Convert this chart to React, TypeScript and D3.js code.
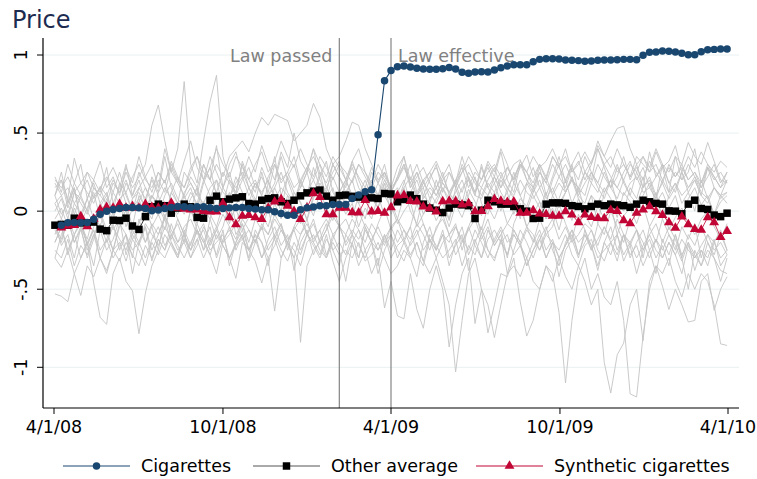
import React from 'react';
import * as d3 from 'd3';

const DAY = 864e5;
const START = Date.UTC(2008, 3, 2);
const N_WEEKS = 105;

const tickDates = [Date.UTC(2008, 3, 1), Date.UTC(2008, 9, 1), Date.UTC(2009, 3, 1), Date.UTC(2009, 9, 1), Date.UTC(2010, 3, 1)];
const tickLabels = ['4/1/08', '10/1/08', '4/1/09', '10/1/09', '4/1/10'];
const yTicks = [-1, -0.5, 0, 0.5, 1];
const yTickLabels = ['-1', '-.5', '0', '.5', '1'];

const events = [
  { date: Date.UTC(2009, 1, 4), label: 'Law passed', side: 'left' },
  { date: Date.UTC(2009, 3, 1), label: 'Law effective', side: 'right' },
];

// Cigarettes (treated)
const cigarettes = [null,
  -0.09, -0.075, -0.073, -0.074, -0.072, -0.052, -0.02, 0.0, 0.011, 0.017,
  0.024, 0.024, 0.021, 0.017, 0.003, 0.008, 0.017, 0.024, 0.03, 0.028,
  0.024, 0.028, 0.028, 0.022, 0.017, 0.017, 0.021, 0.023, 0.023, 0.017,
  0.013, 0.009, 0.009, -0.004, -0.015, -0.026, -0.026, 0.009, 0.021, 0.026,
  0.034, 0.034, 0.043, 0.043, 0.043, 0.081, 0.103, 0.124, 0.137, 0.49,
  0.835, 0.90,
  0.925, 0.93, 0.923, 0.915, 0.91, 0.908, 0.908, 0.912, 0.92, 0.91,
  0.889, 0.883, 0.891, 0.893, 0.891, 0.904, 0.919, 0.929, 0.938, 0.938,
  0.938, 0.957, 0.972, 0.976, 0.976, 0.974, 0.968, 0.966, 0.964, 0.96,
  0.962, 0.966, 0.968, 0.968, 0.97, 0.972, 0.972, 0.97, 0.998, 1.017,
  1.019, 1.026, 1.024, 1.019, 1.011, 1.002, 1.002, 1.021, 1.034, 1.036,
  1.038, 1.038];

// Other average
const otherAverage = [
  -0.09, -0.085, -0.09, -0.045, -0.075, -0.075, -0.07, -0.115, -0.125, -0.058,
  -0.06, -0.045, -0.095, -0.117, -0.035, 0.028, 0.045, 0.035, -0.013, 0.02,
  0.045, 0.028, -0.04, -0.045, 0.07, 0.096, 0.06, 0.077, 0.085, 0.092,
  0.049, 0.045, 0.07, 0.08, 0.085, 0.06, 0.049, 0.07, 0.098, 0.117,
  0.128, 0.135, 0.096, 0.07, 0.1, 0.103, 0.095, 0.09, 0.088, 0.085,
  0.081, 0.113, 0.11, 0.06, 0.075, 0.103, 0.08, 0.045, 0.02, 0.006,
  -0.009, 0.02, 0.045, 0.04, 0.035, -0.047, 0.006, 0.07, 0.06, 0.045,
  0.045, 0.03, 0.015, 0.0, -0.047, -0.045, 0.045, 0.053, 0.053, 0.05,
  0.035, 0.03, 0.015, 0.03, 0.045, 0.035, 0.045, 0.04, 0.035, 0.025,
  0.045, 0.07, 0.06, 0.05, 0.045, 0.002, 0.0, -0.017, 0.045, 0.07,
  0.017, 0.011, -0.025, -0.035, -0.013];

// Synthetic cigarettes
const synthetic = [null,
  -0.105, -0.095, -0.09, -0.034, -0.098, -0.05, 0.01, 0.025, 0.02, 0.045,
  0.02, 0.032, 0.02, 0.045, 0.025, 0.02, 0.025, 0.053, 0.02, 0.015,
  0.01, 0.01, 0.0, -0.004, -0.004, 0.049, -0.04, -0.085, -0.03, -0.026,
  -0.04, -0.051, 0.02, 0.06, 0.077, 0.034, 0.0, -0.051, 0.02, 0.113,
  0.09, -0.021, -0.021, 0.02, 0.02, -0.008, -0.01, 0.07, -0.004, 0.0,
  -0.012, 0.024, 0.1, 0.103, 0.064, 0.06, 0.028, 0.018, -0.003, 0.062,
  0.066, 0.062, 0.042, 0.05, -0.002, 0.0, 0.03, 0.077, 0.066, 0.058,
  0.06, -0.012, -0.012, 0.005, -0.016, -0.02, -0.03, -0.03, -0.002, -0.022,
  -0.072, -0.022, -0.038, -0.045, -0.047, 0.006, 0.0, -0.06, -0.078, -0.012,
  0.01, 0.03, -0.002, -0.025, -0.072, -0.108, -0.035, -0.085, -0.115, -0.12,
  -0.04, -0.072, -0.167, -0.128];

// individual products (gray)
const products = [
  [.15,.2,.08,.34,.18,.12,.05,.16,.1,.2,.12,.25,.15,.22,.3,
   .55,.68,.45,.25,.4,.83,.3,.18,.45,.7,.87,.35,.2,.15,.22,
   .1,.18,.12,.2,.08,.15,.1,.05,.18,.12,.2,.1,.15,.08,.12,
   .2,.1,.05,.15,.12,.08,.18,.1,.15,.05,.12,.2,.08,.15,.1,
   .18,.12,.05,.15,.2,.1,.08,.18,.12,.22,.15,.1,.2,.12,.08,
   .15,.22,.1,.18,.12,.2,.15,.1,.25,.18,.12,.2,.15,.1,.18,
   .22,.12,.15,.08,.2,.12,.18,.1,.15,.22,.12,.08,.15,.1,.12],
  [.05,.1,-.02,.12,.08,.0,.15,.1,.05,.18,.12,.2,.08,.15,.22,
   .12,.25,.18,.3,.2,.15,.28,.35,.25,.2,.3,.22,.35,.4,.45,
   .38,.5,.6,.55,.62,.6,.58,.45,.5,.55,.69,.6,.4,.3,.35,
   .45,.57,.55,.4,.3,.2,.25,.15,.2,.28,.18,.1,.2,.25,.15,
   .22,.12,.18,.25,.3,.2,.15,.25,.3,.22,.28,.2,.3,.25,.35,
   .28,.32,.4,.3,.35,.25,.3,.38,.3,.42,.35,.45,.53,.545,.4,
   .3,.35,.25,.3,.2,.28,.22,.3,.2,.25,.18,.28,.22,.15,.2],
  [-.05,.02,-.1,.05,-.02,.08,-.05,.03,.1,.0,.06,-.04,.08,.12,.02,
   .1,.05,.15,.08,.0,.12,.18,.1,.05,.15,.2,.12,.08,.18,.25,
   .15,.2,.1,.22,.3,.18,.25,.15,.2,.28,.35,.25,.18,.3,.22,
   .12,.2,.3,.25,.15,.1,.2,.12,.05,.15,.22,.1,.18,.12,.05,
   .15,.08,.2,.12,.25,.18,.1,.2,.28,.15,.22,.3,.33,.2,.15,
   .25,.18,.12,.22,.3,.2,.15,.25,.18,.3,.22,.15,.28,.2,.3,
   .25,.35,.28,.4,.3,.25,.35,.3,.44,.35,.3,.44,.32,.2,.18],
  [-.53,-.545,-.58,-.4,-.54,-.35,-.42,-.3,-.38,-.25,-.32,-.2,-.28,-.35,-.22,
   -.3,-.18,-.25,-.15,-.22,-.3,-.2,-.12,-.25,-.18,-.1,-.2,-.15,-.08,-.18,
   -.12,-.2,-.1,-.15,-.05,-.12,-.2,-.1,-.15,-.08,-.18,-.12,-.05,-.15,-.1,
   -.2,-.12,-.18,-.08,-.15,-.25,-.18,-.1,-.2,-.12,-.22,-.15,-.08,-.18,-.25,
   -.15,-.2,-.1,-.18,-.25,-.12,-.2,-.3,-.18,-.1,-.2,-.15,-.22,-.12,-.18,
   -.25,-.15,-.2,-.3,-.22,-.12,-.2,-.15,-.25,-.18,-.1,-.2,-.28,-.15,-.22,
   -.12,-.2,-.3,-.18,-.25,-.15,-.22,-.32,-.2,-.28,-.35,-.25,-.3,-.38,-.4],
  [-.3,-.36,-.25,-.4,-.3,-.2,-.46,-.68,-.725,-.4,-.3,-.45,-.51,-.785,-.525,
   -.35,-.25,-.3,-.2,-.28,-.15,-.25,-.18,-.3,-.2,-.12,-.22,-.3,-.43,-.2,
   -.25,-.32,-.46,-.3,-.64,-.3,-.2,-.3,-.84,-.35,-.25,-.2,-.3,-.15,-.25,
   -.45,-.2,-.12,-.25,-.18,-.1,-.2,-.15,-.25,-.32,-.2,-.12,-.25,-.18,-.3,
   -.2,-.15,-.28,-.2,-.1,-.22,-.3,-.18,-.12,-.2,-.28,-.15,-.22,-.3,-.2,
   -.12,-.25,-.18,-.3,-.22,-.15,-.28,-.2,-.12,-.25,-.32,-.2,-.15,-.28,-.2,
   -.3,-.22,-.15,-.25,-.3,-.2,-.28,-.18,-.25,-.3,-.22,-.15,-.25,-.2,-.28],
  [-.2,-.1,-.25,-.15,-.3,-.2,-.12,-.25,-.18,-.3,-.22,-.15,-.25,-.2,-.3,
   -.18,-.1,-.22,-.15,-.25,-.2,-.3,-.18,-.12,-.25,-.2,-.15,-.3,-.22,-.18,
   -.25,-.15,-.2,-.3,-.22,-.12,-.2,-.25,-.35,-.2,-.15,-.25,-.3,-.2,-.28,
   -.25,-.3,-.2,-.32,-.28,-.2,-.3,-.4,-.35,-.25,-.3,-.2,-.32,-.4,-.3,
   -.45,-.6,-1.03,-.7,-.4,-.3,-.5,-.6,-.81,-.6,-.4,-.35,-.42,-.3,-.45,
   -.5,-.35,-.4,-.65,-1.1,-.7,-.42,-.3,-.5,-.4,-.55,-.6,-.45,-.7,-1.17,
   -1.19,-.8,-.5,-.35,-.4,-.3,-.45,-.55,-.4,-.5,-.4,-.45,-.6,-.85,-.86],
  [-.1,-.18,-.05,-.2,-.12,-.25,-.15,-.08,-.2,-.1,-.18,-.25,-.12,-.2,-.08,
   -.15,-.22,-.1,-.18,-.05,-.15,-.25,-.12,-.2,-.1,-.3,-.18,-.12,-.22,-.15,
   -.32,-.2,-.1,-.25,-.18,-.3,-.2,-.12,-.25,-.15,-.2,-.28,-.15,-.32,-.45,
   -.3,-.2,-.35,-.25,-.4,-.3,-.62,-.45,-.67,-.69,-.4,-.63,-.75,-.5,-.35,
   -.5,-.87,-.6,-.4,-.3,-.72,-.5,-.78,-.6,-.4,-.42,-.3,-.58,-.8,-.7,
   -.5,-.35,-.45,-.3,-.42,-.5,-.35,-.45,-.6,-.5,-.97,-1.165,-.92,-.845,-.6,
   -.5,-.83,-.45,-.35,-.48,-.63,-.5,-.6,-.71,-.7,-.45,-.4,-.635,-.5,-.42],
  [.18,.1,.15,.05,.12,.2,.08,.15,.22,.12,.05,.18,.1,.25,.15,
   .08,.2,.12,.28,.18,.1,.22,.15,.3,.2,.12,.25,.18,.1,.2,
   .28,.15,.22,.12,.3,.2,.25,.35,.18,.28,.2,.3,.15,.25,.32,
   .2,.3,.22,.15,.28,.18,.25,.12,.2,.3,.15,.22,.28,.18,.1,
   .2,.25,.15,.3,.22,.12,.2,.28,.18,.25,.15,.22,.3,.2,.12,
   .25,.18,.3,.22,.15,.28,.2,.35,.25,.18,.3,.22,.15,.25,.32,
   .2,.28,.15,.22,.3,.18,.25,.2,.3,.22,.15,.28,.2,.25,.18],
  [.05,-.05,.08,-.02,.1,.0,-.08,.05,.12,-.03,.06,-.1,.02,.08,-.05,
   .1,.03,-.06,.12,.05,-.02,.08,.15,.02,-.05,.1,.06,-.08,.04,.12,
   .0,.08,-.04,.1,.15,.05,-.02,.12,.06,-.06,.08,.18,.1,.02,.12,
   .05,-.04,.1,.2,.08,.02,.15,.06,-.05,.1,.04,.12,-.02,.08,.15,
   .05,-.06,.1,.02,.14,.06,-.03,.1,.18,.05,.12,-.02,.08,.03,.15,
   .06,-.05,.1,.02,.12,.2,.08,.0,.1,.05,.15,.08,-.04,.12,.06,
   .0,.1,.18,.05,.12,.02,.1,-.05,.08,.15,.04,.1,-.02,.06,.1],
  [-.12,-.2,-.05,-.15,-.08,-.22,-.1,-.02,-.15,-.25,-.1,-.05,-.18,-.12,-.2,
   -.08,-.15,-.03,-.12,-.2,-.1,-.05,-.15,-.08,-.22,-.12,-.02,-.1,-.18,-.05,
   -.12,-.2,-.08,-.15,-.02,-.1,-.18,-.12,-.05,-.15,-.08,-.2,-.12,-.03,-.1,
   -.15,-.05,-.12,-.2,-.08,-.15,-.22,-.1,-.05,-.12,-.18,-.08,-.15,-.25,-.1,
   -.05,-.15,-.1,-.2,-.12,-.05,-.18,-.1,-.22,-.15,-.08,-.12,-.2,-.1,-.15,
   -.25,-.12,-.05,-.18,-.1,-.2,-.15,-.08,-.12,-.22,-.1,-.18,-.05,-.15,-.2,
   -.12,-.25,-.15,-.08,-.2,-.1,-.18,-.3,-.15,-.22,-.1,-.2,-.28,-.15,-.25],
  [.1,.2,.02,.15,-.05,.08,.18,.05,-.02,.12,.25,.1,.0,.15,.08,
   .2,.1,-.05,.12,.22,.08,.15,.02,.18,.28,.1,.05,.2,.12,.3,
   .15,.05,.25,.1,.18,.35,.2,.08,.15,.25,.1,.22,.32,.12,.05,
   .18,.28,.15,.08,.2,.1,.25,.15,.05,.18,.3,.12,.2,.08,.15,
   .25,.1,.18,.05,.22,.12,.3,.15,.08,.2,.12,.25,.1,.18,.28,
   .15,.05,.2,.3,.12,.22,.1,.18,.25,.15,.08,.2,.3,.18,.1,
   .25,.15,.2,.08,.3,.18,.12,.25,.15,.2,.1,.28,.15,.1,.2],
  [-.15,-.05,-.1,.02,-.08,-.18,-.02,-.1,.05,-.12,-.05,.0,-.15,-.08,.03,
   -.1,-.02,-.12,.05,-.05,-.15,.0,-.08,.06,-.02,-.1,.04,-.06,.02,-.12,
   -.04,.08,-.02,-.1,.05,-.05,.1,.0,-.08,.06,-.03,.12,.02,-.06,.08,
   -.02,.05,-.1,.02,-.05,.1,-.03,.04,-.08,.0,.06,-.1,-.02,.05,-.06,
   .02,-.1,.04,-.04,.08,-.02,-.12,.03,-.05,.06,-.08,.0,.05,-.1,-.02,
   .06,-.05,.02,-.12,.04,-.06,.08,-.02,-.1,.03,-.05,.05,-.15,-.03,.02,
   -.08,.04,-.1,-.02,.05,-.12,-.04,.02,-.08,-.15,-.05,.0,-.1,-.18,-.08],
  [-.25,-.3,-.18,-.35,-.22,-.28,-.15,-.3,-.4,-.25,-.2,-.32,-.18,-.25,-.35,
   -.2,-.28,-.15,-.22,-.3,-.18,-.25,-.12,-.2,-.28,-.15,-.22,-.3,-.2,-.12,
   -.25,-.18,-.3,-.22,-.15,-.25,-.32,-.2,-.28,-.15,-.22,-.3,-.18,-.25,-.2,
   -.28,-.15,-.22,-.3,-.2,-.25,-.15,-.3,-.22,-.18,-.28,-.2,-.32,-.15,-.22,
   -.3,-.25,-.18,-.35,-.22,-.28,-.15,-.25,-.3,-.2,-.15,-.28,-.22,-.35,-.25,
   -.18,-.3,-.2,-.25,-.15,-.28,-.35,-.22,-.18,-.3,-.25,-.2,-.32,-.15,-.28,
   -.22,-.35,-.25,-.18,-.3,-.2,-.28,-.4,-.22,-.3,-.25,-.35,-.2,-.3,-.25],
  [.2,.15,.22,.12,.18,.25,.15,.1,.2,.28,.18,.12,.22,.3,.2,
   .15,.25,.18,.32,.22,.15,.25,.35,.2,.28,.4,.3,.22,.35,.28,
   .2,.3,.38,.25,.32,.45,.35,.28,.4,.3,.22,.35,.28,.2,.3,
   .25,.18,.3,.22,.15,.25,.2,.12,.22,.3,.18,.25,.15,.22,.28,
   .18,.12,.2,.28,.15,.25,.2,.3,.22,.15,.28,.2,.32,.25,.18,
   .3,.22,.35,.28,.2,.3,.38,.25,.32,.4,.3,.35,.25,.3,.22,
   .28,.2,.32,.25,.18,.3,.22,.28,.2,.25,.15,.22,.3,.18,.25],
  [-.2,-.1,-.28,-.15,-.05,-.22,-.12,-.3,-.18,-.08,-.25,-.15,-.4,-.2,-.1,
   -.25,-.15,-.05,-.2,-.3,-.12,-.22,-.08,-.18,-.28,-.4,-.2,-.1,-.25,-.15,
   -.3,-.12,-.2,-.35,-.15,-.08,-.22,-.3,-.15,-.05,-.2,-.12,-.28,-.18,-.08,
   -.22,-.15,-.3,-.1,-.2,-.35,-.15,-.25,-.12,-.2,-.3,-.42,-.2,-.1,-.25,
   -.15,-.35,-.2,-.1,-.28,-.18,-.3,-.12,-.22,-.15,-.4,-.25,-.12,-.2,-.3,
   -.18,-.1,-.25,-.35,-.2,-.12,-.28,-.15,-.22,-.38,-.2,-.1,-.25,-.15,-.3,
   -.2,-.12,-.25,-.4,-.18,-.28,-.15,-.3,-.5,-.25,-.35,-.2,-.3,-.45,-.3],
  [.0,.08,-.05,.12,.05,-.02,.1,.15,.03,-.05,.08,.12,.0,.06,.15,
   .05,-.03,.1,.18,.08,.02,.12,.05,.2,.1,.0,.15,.08,.22,.12,
   .05,.18,.1,.02,.15,.25,.12,.05,.2,.1,.28,.15,.08,.22,.12,
   .2,.1,.05,.15,.08,.18,.1,.02,.12,.2,.05,.1,.15,.0,.08,
   .15,.05,.12,.2,.08,.02,.15,.1,.22,.12,.05,.18,.1,.0,.12,
   .2,.08,.15,.05,.12,.22,.1,.05,.18,.12,.25,.15,.08,.2,.1,
   .05,.15,.22,.1,.18,.08,.15,.25,.12,.2,.1,.05,.15,.08,.12],
  [-.3,-.15,-.05,-.2,-.1,-.3,-.18,.0,-.12,-.25,-.08,-.15,-.3,-.05,-.2,
   -.1,-.25,-.02,-.15,-.08,-.2,.02,-.12,-.25,-.05,-.18,-.1,.05,-.15,-.08,
   -.2,-.05,-.12,.02,-.18,-.08,-.25,-.1,.0,-.15,-.05,-.2,-.12,.02,-.1,
   -.05,-.15,.0,-.1,-.2,-.08,.02,-.12,-.05,-.18,-.1,.05,-.08,-.2,-.12,
   -.02,-.15,-.08,-.25,-.1,.0,-.15,-.05,-.2,-.12,-.3,-.08,.02,-.1,-.2,
   -.05,-.15,-.1,.05,-.08,-.18,-.02,-.12,-.25,-.08,-.15,.0,-.1,-.2,-.05,
   -.12,-.3,-.1,-.2,-.05,-.15,-.25,-.1,-.18,-.08,-.3,-.15,-.2,-.12,-.25],
  [.1,.25,.05,.18,.3,.08,.2,.12,.28,.05,.15,.3,.1,.2,.05,
   .22,.12,.35,.15,.05,.25,.18,.1,.3,.2,.42,.15,.25,.1,.32,
   .2,.12,.28,.18,.35,.1,.22,.3,.15,.25,.4,.2,.12,.3,.22,
   .15,.32,.2,.1,.25,.18,.3,.12,.22,.35,.15,.25,.1,.2,.3,
   .12,.25,.18,.35,.2,.1,.28,.15,.22,.38,.2,.12,.3,.25,.15,
   .28,.1,.22,.35,.18,.3,.12,.25,.2,.4,.28,.15,.22,.35,.2,
   .3,.15,.38,.22,.28,.12,.35,.2,.25,.4,.18,.3,.22,.15,.25],
  [-.08,-.22,-.15,-.3,-.1,-.2,-.35,-.12,-.25,-.18,-.05,-.28,-.15,-.22,-.1,
   -.32,-.18,-.25,-.08,-.2,-.15,-.3,-.22,-.1,-.18,-.28,-.12,-.35,-.2,-.08,
   -.25,-.15,-.3,-.18,-.1,-.22,-.15,-.38,-.2,-.12,-.28,-.18,-.08,-.25,-.35,
   -.15,-.22,-.3,-.12,-.2,-.4,-.25,-.15,-.3,-.2,-.1,-.28,-.35,-.18,-.25,
   -.12,-.3,-.22,-.15,-.38,-.2,-.1,-.25,-.32,-.18,-.28,-.12,-.2,-.35,-.25,
   -.15,-.3,-.2,-.42,-.25,-.18,-.3,-.12,-.22,-.35,-.2,-.28,-.15,-.32,-.22,
   -.4,-.25,-.18,-.3,-.22,-.35,-.15,-.28,-.2,-.38,-.25,-.3,-.18,-.35,-.28],
  [.1,-.02,.05,.15,-.08,.02,.12,-.05,.08,.0,.18,.05,-.1,.1,.02,
   -.05,.12,.2,.05,-.02,.1,.0,.15,-.05,.08,.2,.02,.12,-.08,.05,
   .15,.08,-.02,.18,.1,.0,.22,.12,.05,-.05,.1,.25,.08,.15,.0,
   .1,.2,.05,-.05,.12,.02,.18,-.02,.08,.15,.0,-.08,.1,.05,.2,
   .08,-.05,.15,.02,.1,.22,.05,-.02,.12,.0,.15,.08,-.05,.18,.1,
   .02,.12,-.05,.08,.2,.05,.15,.0,.1,-.08,.12,.2,.05,.0,.15,
   .08,.22,.02,.12,-.05,.1,.18,.05,.12,.0,.2,.08,-.02,.1,.05],
  [.22,.12,.3,.18,.1,.25,.2,.32,.15,.22,.1,.28,.18,.35,.22,
   .3,.15,.4,.25,.18,.32,.45,.28,.2,.35,.25,.15,.3,.38,.22,
   .35,.25,.42,.3,.2,.38,.28,.5,.32,.25,.4,.3,.22,.35,.28,
   .2,.32,.4,.25,.18,.3,.22,.15,.28,.35,.2,.3,.18,.25,.32,
   .22,.3,.15,.25,.35,.28,.2,.32,.25,.4,.3,.18,.28,.36,.22,
   .3,.2,.35,.28,.4,.25,.32,.2,.3,.45,.35,.28,.4,.3,.22,
   .35,.3,.25,.38,.28,.32,.42,.25,.35,.28,.38,.3,.25,.32,.28],
];

const BLUE = '#1a476f';
const RED = '#c10534';
const GRAY = '#c4c4c4';
const FONT = 'DejaVu Sans, sans-serif';

const weeks = d3.range(N_WEEKS).map(i => new Date(START + i * 7 * DAY));

const x = d3.scaleUtc().domain([new Date(tickDates[0]), new Date(tickDates[4])]).range([54, 728]);
const y = d3.scaleLinear().domain([-1, 1]).range([367.3, 55]);

const plotLeft = 43, plotRight = 739, plotTop = 38, plotBottom = 408;

const line = d3.line<number | null>()
  .defined(v => v != null)
  .x((_, i) => x(weeks[i]))
  .y(v => y(v as number));

const circle = d3.symbol(d3.symbolCircle, 44)();
const square = d3.symbol(d3.symbolSquare, 56)();
const triangle = d3.symbol(d3.symbolTriangle, 42)();

const Markers = ({ data, path, fill }) => (
  <g fill={fill}>
    {data.map((v, i) => v == null ? null : (
      <path key={i} d={path} transform={`translate(${x(weeks[i])},${y(v)})`} />
    ))}
  </g>
);

const legendItems = [
  { label: 'Cigarettes', color: BLUE, lineColor: BLUE, path: circle, x0: 63 },
  { label: 'Other average', color: '#000', lineColor: '#555', path: square, x0: 253 },
  { label: 'Synthetic cigarettes', color: RED, lineColor: RED, path: triangle, x0: 476 },
];

export default function App() {
  return (
    <svg width={757} height={479} style={{ position: 'absolute', left: 0, top: 0, background: '#fff' }} fontFamily={FONT}>
      <text x={12} y={28} fontSize={24} fill="#1c2b4f">Price</text>

      {/* grid */}
      {yTicks.map(t => (
        <line key={t} x1={plotLeft} x2={plotRight} y1={y(t)} y2={y(t)} stroke="#e9f0f1" strokeWidth={1} />
      ))}

      {/* products */}
      <g fill="none" stroke={GRAY} strokeWidth={0.9}>
        {products.map((p, k) => <path key={k} d={line(p) || ''} />)}
      </g>

      {/* events */}
      {events.map(e => (
        <g key={e.label}>
          <line x1={x(new Date(e.date))} x2={x(new Date(e.date))} y1={plotTop} y2={plotBottom} stroke="#7a7a7a" strokeWidth={1.1} />
          <text x={x(new Date(e.date)) + (e.side === 'left' ? -7 : 7)} y={62} fontSize={17.5} fill="#808080"
            textAnchor={e.side === 'left' ? 'end' : 'start'}>{e.label}</text>
        </g>
      ))}

      {/* series */}
      <path d={line(otherAverage) || ''} fill="none" stroke="#000" strokeWidth={0.8} />
      <Markers data={otherAverage} path={square} fill="#000" />
      <path d={line(synthetic) || ''} fill="none" stroke={RED} strokeWidth={0.8} />
      <Markers data={synthetic} path={triangle} fill={RED} />
      <path d={line(cigarettes) || ''} fill="none" stroke={BLUE} strokeWidth={1.1} />
      <Markers data={cigarettes} path={circle} fill={BLUE} />

      {/* axes */}
      <line x1={plotLeft} x2={plotLeft} y1={plotTop} y2={plotBottom} stroke="#000" strokeWidth={1.2} />
      <line x1={plotLeft} x2={plotRight} y1={plotBottom} y2={plotBottom} stroke="#000" strokeWidth={1.2} />
      {yTicks.map((t, i) => (
        <g key={t}>
          <line x1={plotLeft - 6} x2={plotLeft} y1={y(t)} y2={y(t)} stroke="#000" />
          <text transform={`translate(27,${y(t)}) rotate(-90)`} textAnchor="middle" fontSize={17.5} fill="#000">{yTickLabels[i]}</text>
        </g>
      ))}
      {tickDates.map((d, i) => (
        <g key={d}>
          <line x1={x(new Date(d))} x2={x(new Date(d))} y1={plotBottom} y2={plotBottom + 6} stroke="#000" />
          <text x={x(new Date(d))} y={433} textAnchor="middle" fontSize={17.5} fill="#000">{tickLabels[i]}</text>
        </g>
      ))}

      {/* legend */}
      {legendItems.map(it => (
        <g key={it.label}>
          <line x1={it.x0} x2={it.x0 + 67} y1={466} y2={466} stroke={it.lineColor} strokeWidth={1} />
          <path d={it.path} transform={`translate(${it.x0 + 33.5},466)`} fill={it.color} />
          <text x={it.x0 + 78} y={472} fontSize={17.5} fill="#000">{it.label}</text>
        </g>
      ))}
    </svg>
  );
}
